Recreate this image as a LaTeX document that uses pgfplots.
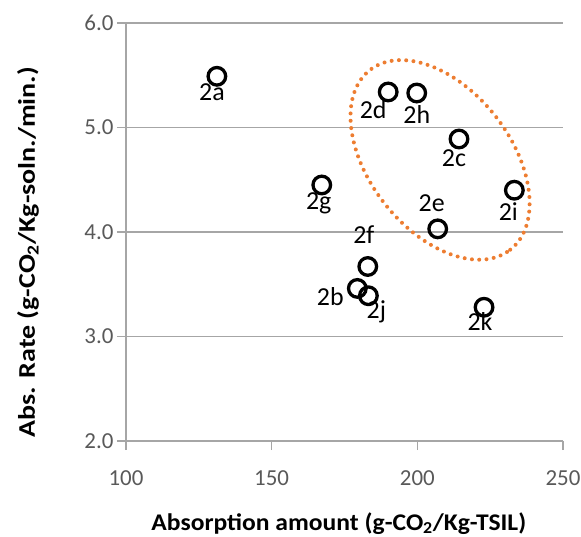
\documentclass[border=0pt]{standalone}
\usepackage{pgfplots}
\pgfplotsset{compat=1.18}
\usepackage{pgfplotstable}
\usepackage{graphicx}
\usepackage{fontspec}
\setmainfont{Carlito}
\definecolor{axgray}{RGB}{166,166,166}
\definecolor{tickgray}{RGB}{89,89,89}
\definecolor{exorange}{RGB}{237,125,49}
\pgfplotstableread{
x y label
131.2 5.49 2a
190.0 5.34 2d
199.8 5.33 2h
214.3 4.89 2c
167.2 4.45 2g
233.3 4.40 2i
207.0 4.03 2e
183.0 3.67 2f
179.4 3.46 2b
183.2 3.39 2j
222.9 3.28 2k
}\pts
\pgfplotstableread{
lx ly label
129.5 5.337 2a
184.85 5.168 2d
199.8 5.129 2h
212.58 4.708 2c
166.17 4.278 2g
231.24 4.199 2i
204.94 4.279 2e
181.63 3.976 2f
170.13 3.383 2b
185.95 3.237 2j
221.53 3.146 2k
}\lbls
\begin{document}
\begin{tikzpicture}
\useasboundingbox (-126bp,-96bp) rectangle (455bp,441bp);
\begin{axis}[
  scale only axis,
  width=437bp, height=418bp,
  at={(0,0)}, anchor=south west,
  xmin=100, xmax=250, ymin=2, ymax=6,
  xtick={100,150,200,250}, ytick={2,3,4,5,6},
  axis lines*=left,
  axis line style={axgray, line width=1.2bp},
  tick style={axgray, line width=1.2bp},
  tick align=outside,
  major tick length=9bp,
  ymajorgrids,
  grid style={axgray, line width=1.2bp},
  yticklabel style={/pgf/number format/fixed, /pgf/number format/fixed zerofill, /pgf/number format/precision=1},
  /pgf/number format/assume math mode=true,
  tick label style={font=\fontsize{23}{27}\selectfont, text=tickgray},
  xticklabel style={yshift=-17bp},
  yticklabel style={xshift=0bp},
  xlabel={\scalebox{1.07}[1]{\textbf{Absorption amount (g-CO\textsubscript{2}/Kg-TSIL)}}},
  ylabel={\scalebox{1.17}[1]{\textbf{Abs. Rate (g-CO\textsubscript{2}/Kg-soln./min.)}}},
  label style={font=\fontsize{24}{28}\selectfont},
  xlabel style={at={(axis description cs:0.487,-0.213)}, anchor=base},
  ylabel style={at={(axis description cs:-0.224,0.452)}, anchor=center},
  clip=false,
]
\addplot[only marks, mark=o, mark size=8.8bp, line width=3.3bp, black] table[x=x, y=y] {\pts};
\addplot[only marks, mark=none,
  point meta=explicit symbolic,
  nodes near coords,
  nodes near coords style={anchor=center, font=\fontsize{26}{30}\selectfont, text=black, inner sep=0pt},
] table[x=lx, y=ly, meta=label] {\lbls};
\coordinate (ec) at (axis cs:207.8,4.69);
\end{axis}
\draw[exorange, line width=4bp, line cap=round, dash pattern=on 0pt off 7.3bp, rotate around={-52:(ec)}] (ec) ellipse [x radius=114bp, y radius=70.6bp];
\end{tikzpicture}
\end{document}
